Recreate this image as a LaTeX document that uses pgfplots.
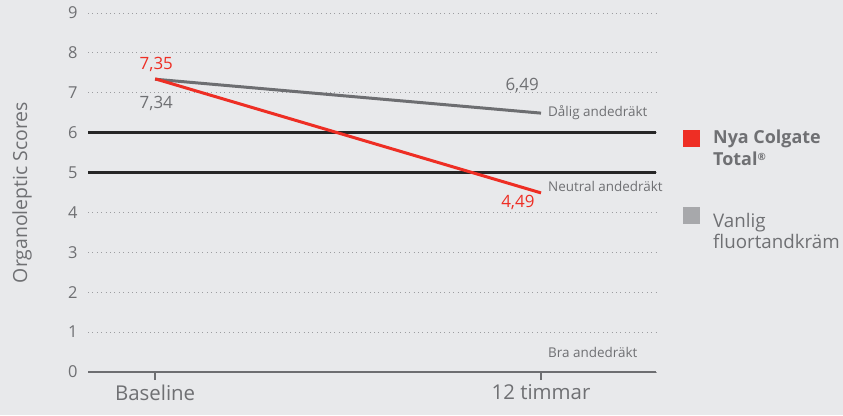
\documentclass[border=0pt]{standalone}
\usepackage{pgfplots}
\pgfplotsset{compat=1.18}
\usepackage{fontspec}
\setmainfont{Open Sans}
\definecolor{bg}{HTML}{E8E9EB}
\definecolor{txt}{HTML}{6F7073}
\definecolor{cred}{HTML}{EE2E24}
\definecolor{cgray}{HTML}{6D6E71}
\definecolor{lgray}{HTML}{A7A8AB}
\definecolor{gridc}{HTML}{9C9DA0}

\begin{document}
\begin{tikzpicture}[x=1bp,y=1bp]
\fill[bg] (0,0) rectangle (843,415);
\begin{axis}[
  at={(88bp,43bp)}, anchor=south west,
  scale only axis, width=568bp, height=359bp,
  xmin=-0.174, xmax=1.298, ymin=0, ymax=9,
  clip=false,
  axis x line*=bottom, axis y line*=left,
  y axis line style={draw=none},
  x axis line style={cgray, line width=2bp, -},
  xtick={0,1}, xticklabels={Baseline,12 timmar},
  xtick align=outside, major tick length=8bp,
  xtick style={cgray, line width=2.5bp},
  ytick={0,...,9}, ytick style={draw=none},
  ymajorgrids,
  grid style={gridc, line width=1bp, dash pattern=on 0.8bp off 3.6bp},
  extra y ticks={5,6}, extra y tick labels={},
  extra y tick style={grid style={solid, black!85, line width=3bp}},
  /pgf/number format/assume math mode=true,
  yticklabel style={font=\fontsize{16.5}{18}\selectfont, text=txt, xshift=-7bp},
  xticklabel style={font=\fontsize{20.5}{22}\selectfont, text=txt, yshift=-1bp},
  ylabel={Organoleptic Scores},
  ylabel style={at={(axis description cs:0,0.5)}, anchor=center, yshift=66bp,
    font=\fontsize{19.5}{21}\selectfont, text=txt},
]
\addplot[cgray, line width=3bp] coordinates {(0,7.34) (1,6.49)};
\addplot[cred, line width=3bp] coordinates {(0,7.35) (1,4.49)};

\node[text=cred, font=\fontsize{17}{19}\selectfont] at (axis cs:0.003,7.72) {7,35};
\node[text=txt, font=\fontsize{17}{19}\selectfont] at (axis cs:0.003,6.72) {7,34};
\node[text=txt, font=\fontsize{17}{19}\selectfont] at (axis cs:0.951,7.19) {6,49};
\node[text=cred, font=\fontsize{17}{19}\selectfont] at (axis cs:0.940,4.24) {4,49};

\node[text=txt, font=\fontsize{13.5}{15}\selectfont, anchor=west, inner sep=0] at (axis cs:1.018,6.49) {Dålig andedräkt};
\node[text=txt, font=\fontsize{13.5}{15}\selectfont, anchor=west, inner sep=0] at (axis cs:1.018,4.66) {Neutral andedräkt};
\node[text=txt, font=\fontsize{13.5}{15}\selectfont, anchor=west, inner sep=0] at (axis cs:1.018,0.48) {Bra andedräkt};
\end{axis}

\fill[cred] (683,268) rectangle (700,285);
\fill[lgray] (683,191) rectangle (700,208);
\node[text=txt, font=\bfseries\fontsize{18}{20}\selectfont, anchor=base west, inner sep=0] at (713,272) {Nya Colgate};
\node[text=txt, font=\bfseries\fontsize{18}{20}\selectfont, anchor=base west, inner sep=0] at (713,250) {Total\raisebox{5bp}{\fontsize{10}{11}\selectfont ®}};
\node[text=txt, font=\fontsize{18.8}{20}\selectfont, anchor=base west, inner sep=0] at (713,188) {Vanlig};
\node[text=txt, font=\fontsize{18.8}{20}\selectfont, anchor=base west, inner sep=0] at (713,167) {fluortandkräm};
\end{tikzpicture}
\end{document}
